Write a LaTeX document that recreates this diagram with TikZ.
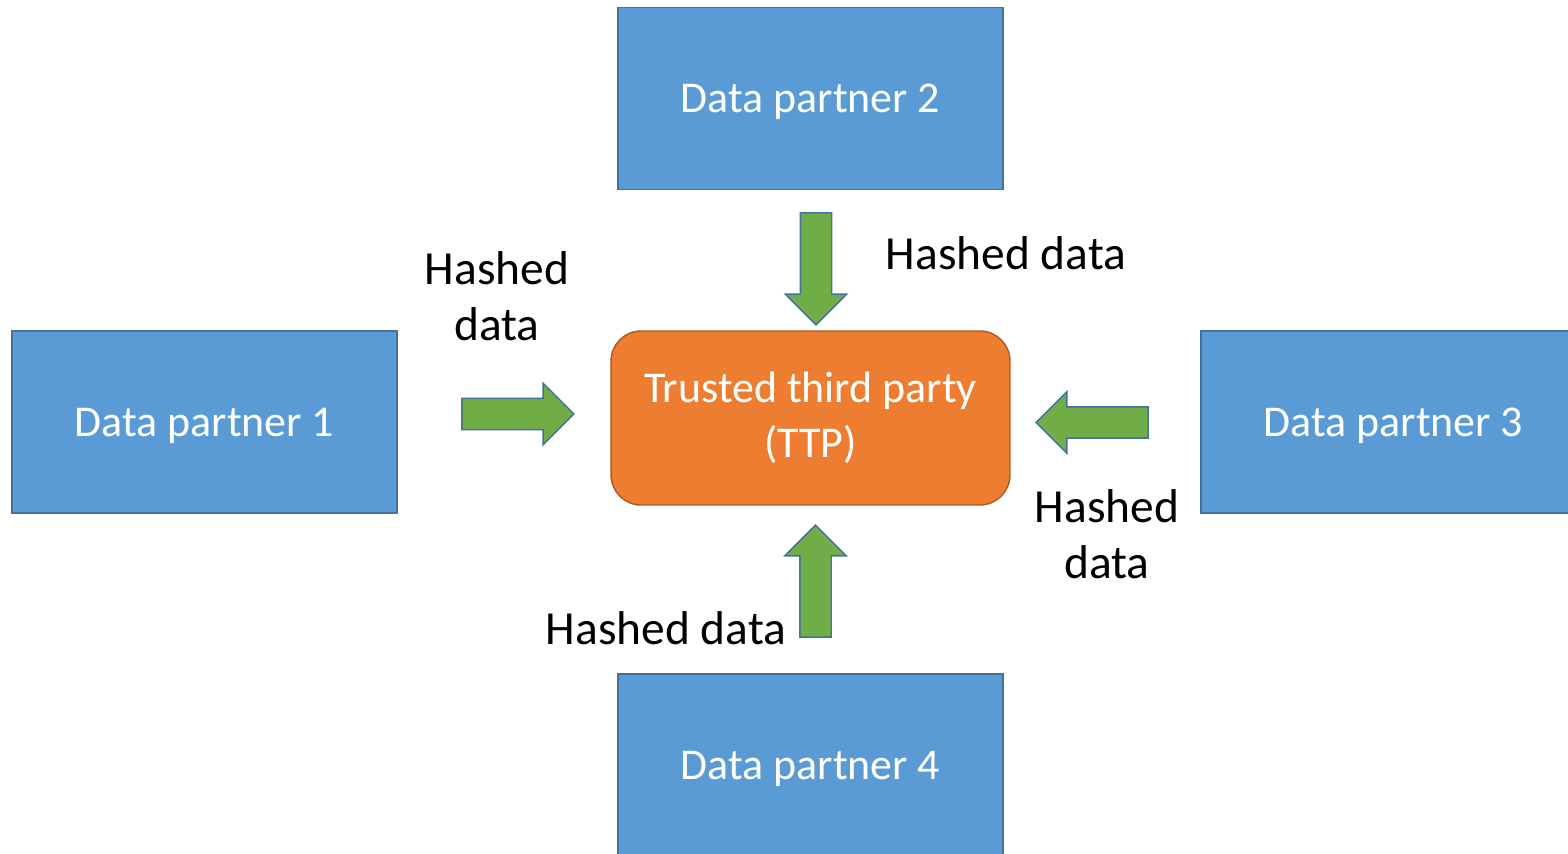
\documentclass[tikz,border=0pt]{standalone}
\usepackage{fontspec}
\setmainfont{Carlito}
\usetikzlibrary{shapes.arrows}
\definecolor{partnerblue}{HTML}{5B9BD5}
\definecolor{partneredge}{HTML}{41719C}
\definecolor{ttporange}{HTML}{ED7D31}
\definecolor{ttpedge}{HTML}{AE5A21}
\definecolor{feedgreen}{HTML}{70AD47}

\begin{document}
\begin{tikzpicture}[x=0.02cm, y=-0.02cm,
	partner/.style={rectangle, fill=partnerblue, draw=partneredge, line width=0.8pt, minimum width=7.7cm, minimum height=3.64cm, text depth=0pt, text=white, font=\fontsize{25}{30}\selectfont},
	ttp/.style={rectangle, rounded corners=0.6cm, fill=ttporange, draw=ttpedge, line width=0.8pt, minimum width=7.98cm, minimum height=3.48cm, text=white, align=center, font=\fontsize{25}{31}\selectfont},
	hashed/.style={align=center, font=\fontsize{27}{32}\selectfont},
	feed/.style={single arrow, fill=feedgreen, draw=partneredge, line width=0.8pt, minimum height=2.24cm, inner sep=0pt, inner ysep=0.3cm, single arrow head extend=0.3cm, single arrow tip angle=90}]
		\path[use as bounding box, clip] (0,0) rectangle (1568,854);
		
		\node[partner] (dp1) at (204.5,422) {Data partner 1};
		\node[partner] (dp2) at (810.5,98.5) {Data partner 2};
		\node[partner] (dp3) at (1393.5,422) {Data partner 3};
		\node[partner] (dp4) at (810.5,765) {Data partner 4};
		\node[ttp] (ttp) at (810.5,418) {Trusted third party\\(TTP)};
		
		\node[feed] (f1) at (510,414) {};
		\node[feed, rotate=-90] (f2) at (816,261) {};
		\node[feed, rotate=180] (f3) at (1100,422.5) {};
		\node[feed, rotate=90] (f4) at (815.5,589) {};
		
		\node[hashed] (h1) at (497,296.5) {Hashed\\data};
		\node[hashed] (h2) at (1006,253) {Hashed data};
		\node[hashed] (h3) at (1107,534.5) {Hashed\\data};
		\node[hashed] (h4) at (666,628) {Hashed data};
\end{tikzpicture}
\end{document}
